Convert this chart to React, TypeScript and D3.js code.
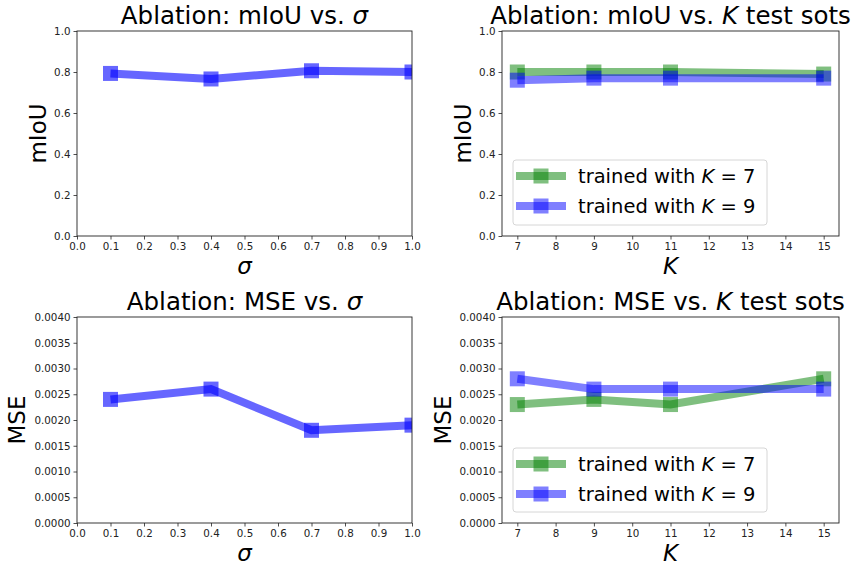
import React, { useEffect, useRef } from 'react'
import * as d3 from 'd3'

// values
const sigmas = [0.1, 0.4, 0.7, 1.0]
const mIoUSigma = [0.793, 0.766, 0.806, 0.8]
const mseSigma = [0.0024, 0.0026, 0.0018, 0.0019]

const kValues = [7, 9, 11, 15]
const mIoUK7 = [0.8, 0.8, 0.8, 0.79]
const mIoUK9 = [0.76, 0.77, 0.77, 0.77]
const mseK7 = [0.0023, 0.0024, 0.0023, 0.0028]
const mseK9 = [0.0028, 0.0026, 0.0026, 0.0026]

const sigmaTicks = [0, 0.1, 0.2, 0.3, 0.4, 0.5, 0.6, 0.7, 0.8, 0.9, 1.0]
const kTicks = [7, 8, 9, 10, 11, 12, 13, 14, 15]
const mIoUTicks = [0, 0.2, 0.4, 0.6, 0.8, 1.0]
const mseTicks = [0, 0.0005, 0.001, 0.0015, 0.002, 0.0025, 0.003, 0.0035, 0.004]

const legendLabels = ['7', '9']

const BLUE = '#0000ff'
const GREEN = '#008000'
const FONT = 'DejaVu Sans, sans-serif'

type Seg = [string, boolean]
type Series = { xs: number[], ys: number[], color: string, alpha: number }

interface PanelDef {
    box: { left: number, right: number, top: number, bottom: number },
    xDomain: [number, number],
    yDomain: [number, number],
    xTicks: number[],
    yTicks: number[],
    xFmt: (v: number) => string,
    yFmt: (v: number) => string,
    title: Seg[],
    xLabel: Seg[],
    yLabel: string,
    yLabelX: number,
    series: Series[],
    legend?: { left: number, top: number, width: number, height: number }
}

const panels: PanelDef[] = [
    {
        box: {left: 77, right: 412, top: 31, bottom: 236},
        xDomain: [0, 1], yDomain: [0, 1],
        xTicks: sigmaTicks, yTicks: mIoUTicks,
        xFmt: d3.format('.1f'), yFmt: d3.format('.1f'),
        title: [['Ablation: mIoU vs. ', false], ['σ', true]],
        xLabel: [['σ', true]],
        yLabel: 'mIoU', yLabelX: 46,
        series: [{xs: sigmas, ys: mIoUSigma, color: BLUE, alpha: 0.6}]
    },
    {
        box: {left: 502, right: 839, top: 31, bottom: 236},
        xDomain: [6.6, 15.4], yDomain: [0, 1],
        xTicks: kTicks, yTicks: mIoUTicks,
        xFmt: d3.format('d'), yFmt: d3.format('.1f'),
        title: [['Ablation: mIoU vs. ', false], ['K', true], [' test sots', false]],
        xLabel: [['K', true]],
        yLabel: 'mIoU', yLabelX: 471,
        series: [
            {xs: kValues, ys: mIoUK7, color: GREEN, alpha: 0.5},
            {xs: kValues, ys: mIoUK9, color: BLUE, alpha: 0.5}
        ],
        legend: {left: 513, top: 160, width: 254, height: 65}
    },
    {
        box: {left: 77, right: 412, top: 317, bottom: 523},
        xDomain: [0, 1], yDomain: [0, 0.004],
        xTicks: sigmaTicks, yTicks: mseTicks,
        xFmt: d3.format('.1f'), yFmt: d3.format('.4f'),
        title: [['Ablation: MSE vs. ', false], ['σ', true]],
        xLabel: [['σ', true]],
        yLabel: 'MSE', yLabelX: 25,
        series: [{xs: sigmas, ys: mseSigma, color: BLUE, alpha: 0.6}]
    },
    {
        box: {left: 502, right: 839, top: 317, bottom: 523},
        xDomain: [6.6, 15.4], yDomain: [0, 0.004],
        xTicks: kTicks, yTicks: mseTicks,
        xFmt: d3.format('d'), yFmt: d3.format('.4f'),
        title: [['Ablation: MSE vs. ', false], ['K', true], [' test sots', false]],
        xLabel: [['K', true]],
        yLabel: 'MSE', yLabelX: 451,
        series: [
            {xs: kValues, ys: mseK7, color: GREEN, alpha: 0.5},
            {xs: kValues, ys: mseK9, color: BLUE, alpha: 0.5}
        ],
        legend: {left: 513, top: 448, width: 254, height: 64}
    }
]

function addSegs(t: any, segs: Seg[]) {
    segs.forEach(([s, it]) => {
        t.append('tspan').attr('font-style', it ? 'italic' : 'normal').text(s)
    })
}

function drawPanel(svg: any, p: PanelDef, idx: number) {
    const {left, right, top, bottom} = p.box
    const x = d3.scaleLinear(p.xDomain, [left, right])
    const y = d3.scaleLinear(p.yDomain, [bottom, top])
    const g = svg.append('g')

    const clipId = 'clip' + idx
    svg.append('defs').append('clipPath').attr('id', clipId)
        .append('rect').attr('x', left).attr('y', top)
        .attr('width', right - left).attr('height', bottom - top)

    // axes
    g.append('g').attr('transform', `translate(0,${bottom})`)
        .call(d3.axisBottom(x).tickValues(p.xTicks).tickFormat(p.xFmt as any).tickSize(3.5).tickPadding(3))
        .call((a: any) => a.select('.domain').remove())
        .call((a: any) => a.selectAll('text').attr('font-size', 10.3).attr('font-family', FONT).attr('fill', '#222'))
    g.append('g').attr('transform', `translate(${left},0)`)
        .call(d3.axisLeft(y).tickValues(p.yTicks).tickFormat(p.yFmt as any).tickSize(3.5).tickPadding(3))
        .call((a: any) => a.select('.domain').remove())
        .call((a: any) => a.selectAll('text').attr('font-size', 10.3).attr('font-family', FONT).attr('fill', '#222'))
    g.selectAll('.tick line').attr('stroke', '#222').attr('stroke-width', 0.8)

    // data
    const line = d3.line<[number, number]>().x(d => x(d[0])).y(d => y(d[1]))
    const plot = g.append('g').attr('clip-path', `url(#${clipId})`)
    p.series.forEach(s => {
        const pts: [number, number][] = s.xs.map((v, i) => [v, s.ys[i]])
        const sg = plot.append('g')
        sg.append('path').attr('d', line(pts)).attr('fill', 'none')
            .attr('stroke', s.color).attr('stroke-opacity', s.alpha).attr('stroke-width', 8)
        sg.selectAll('rect').data(pts).join('rect')
            .attr('x', (d: any) => x(d[0]) - 7.5).attr('y', (d: any) => y(d[1]) - 7.5)
            .attr('width', 15).attr('height', 15)
            .attr('fill', s.color).attr('fill-opacity', s.alpha)
    })

    // frame
    g.append('rect').attr('x', left).attr('y', top).attr('width', right - left).attr('height', bottom - top)
        .attr('fill', 'none').attr('stroke', '#222').attr('stroke-width', 0.9)

    // titles
    const cx = (left + right) / 2
    addSegs(g.append('text').attr('x', cx).attr('y', top - 7).attr('text-anchor', 'middle')
        .attr('font-size', 24.5).attr('font-family', FONT).attr('fill', '#000'), p.title)
    addSegs(g.append('text').attr('x', cx).attr('y', bottom + 38).attr('text-anchor', 'middle')
        .attr('font-size', 23).attr('font-family', FONT).attr('fill', '#000'), p.xLabel)
    g.append('text').attr('transform', `translate(${p.yLabelX},${(top + bottom) / 2}) rotate(-90)`)
        .attr('text-anchor', 'middle').attr('font-size', 23).attr('font-family', FONT).text(p.yLabel)

    if (p.legend) {
        const L = p.legend
        const lg = g.append('g')
        lg.append('rect').attr('x', L.left).attr('y', L.top).attr('width', L.width).attr('height', L.height)
            .attr('rx', 3).attr('fill', '#fff').attr('fill-opacity', 0.8)
            .attr('stroke', '#d6d6d6').attr('stroke-width', 1)
        p.series.forEach((s, i) => {
            const ly = L.top + 16 + i * 30
            lg.append('line').attr('x1', L.left + 3).attr('x2', L.left + 53).attr('y1', ly).attr('y2', ly)
                .attr('stroke', s.color).attr('stroke-opacity', s.alpha).attr('stroke-width', 8)
            lg.append('rect').attr('x', L.left + 28 - 7.5).attr('y', ly - 7.5).attr('width', 15).attr('height', 15)
                .attr('fill', s.color).attr('fill-opacity', s.alpha)
            const t = lg.append('text').attr('x', L.left + 65).attr('y', ly + 7)
                .attr('font-size', 19.5).attr('font-family', FONT).attr('fill', '#000')
            addSegs(t, [['trained with ', false], ['K', true], [' = ' + legendLabels[i], false]])
        })
    }
}

export default function App() {
    const ref = useRef<SVGSVGElement>(null)

    useEffect(() => {
        const svg = d3.select(ref.current)
        svg.selectAll('*').remove()
        panels.forEach((p, i) => drawPanel(svg, p, i))
    }, [])

    return <svg ref={ref} width={853} height={566}
        style={{position: 'absolute', left: 0, top: 0, background: '#fff'}}/>
}
